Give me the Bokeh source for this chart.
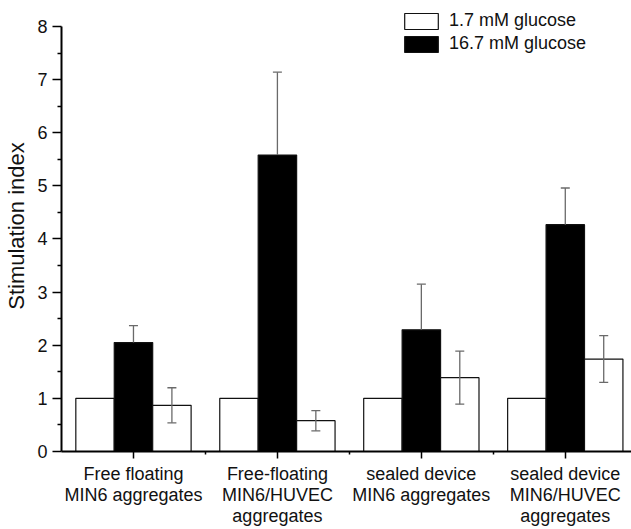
from bokeh.plotting import figure
from bokeh.models import ColumnDataSource, Whisker, FixedTicker, Range1d, Legend, LegendItem
from bokeh.embed import file_html
from bokeh.resources import INLINE

groups = ["Free floating\nMIN6 aggregates",
          "Free-floating\nMIN6/HUVEC\naggregates",
          "sealed device\nMIN6 aggregates",
          "sealed device\nMIN6/HUVEC\naggregates"]
low1 = [1.0, 1.0, 1.0, 1.0]
high = [2.05, 5.58, 2.29, 4.27]
high_err = [0.32, 1.56, 0.86, 0.69]
low2 = [0.87, 0.58, 1.39, 1.74]
low2_err = [0.33, 0.19, 0.50, 0.44]
y_ticks = [0, 1, 2, 3, 4, 5, 6, 7, 8]

FONT = "Liberation Sans"
W = 0.267
xc = [i + 1 for i in range(len(groups))]

p = figure(width=631, height=529, output_backend="svg", toolbar_location=None,
           x_range=Range1d(0.5, 4.46), y_range=Range1d(0, 8.489),
           min_border_left=61, min_border_right=0, min_border_top=0, min_border_bottom=78)
p.outline_line_color = None
p.xgrid.visible = False
p.ygrid.visible = False
p.background_fill_color = "white"

s1 = ColumnDataSource(dict(x=[c - W for c in xc], top=low1))
s2 = ColumnDataSource(dict(x=xc, top=high,
                           up=[v + e for v, e in zip(high, high_err)]))
s3 = ColumnDataSource(dict(x=[c + W for c in xc], top=low2,
                           up=[v + e for v, e in zip(low2, low2_err)],
                           lo=[v - e for v, e in zip(low2, low2_err)]))

r1 = p.vbar(x="x", top="top", bottom=0, width=W, source=s1,
            fill_color="white", line_color="#111111", line_width=1.2)
r2 = p.vbar(x="x", top="top", bottom=0, width=W, source=s2,
            fill_color="black", line_color="#111111", line_width=1.2)
r3 = p.vbar(x="x", top="top", bottom=0, width=W, source=s3,
            fill_color="white", line_color="#111111", line_width=1.2)

w2 = Whisker(base="x", upper="up", lower="top", source=s2,
             line_color="#6a6a6a", line_width=1.3, level="glyph")
w2.upper_head.size = 9
w2.upper_head.line_color = "#6a6a6a"
w2.upper_head.line_width = 1.3
w2.lower_head = None
p.add_layout(w2)

w3 = Whisker(base="x", upper="up", lower="lo", source=s3,
             line_color="#6a6a6a", line_width=1.3, level="glyph")
for h in (w3.upper_head, w3.lower_head):
    h.size = 9
    h.line_color = "#6a6a6a"
    h.line_width = 1.3
p.add_layout(w3)

# axes
p.xaxis.ticker = FixedTicker(ticks=xc, minor_ticks=[1.5, 2.5, 3.5])
p.xaxis.major_label_overrides = {c: g for c, g in zip(xc, groups)}
p.yaxis.ticker = FixedTicker(ticks=y_ticks, minor_ticks=[v + 0.5 for v in y_ticks[:-1]])
p.yaxis.bounds = (0, 8)
for ax in (p.xaxis[0], p.yaxis[0]):
    ax.axis_line_width = 2
    ax.axis_line_color = "black"
    ax.major_tick_line_width = 1.5
    ax.minor_tick_line_width = 1.5
    ax.major_tick_line_color = "black"
    ax.minor_tick_line_color = "black"
    ax.major_tick_out = 9
    ax.major_tick_in = 0
    ax.minor_tick_out = 4
    ax.minor_tick_in = 0
    ax.major_label_text_font = FONT
    ax.major_label_text_font_size = "18px"
    ax.major_label_text_color = "#111111"
p.xaxis.major_tick_out = 7
p.xaxis.minor_tick_out = 3
p.xaxis.major_label_standoff = 5
p.xaxis.major_label_text_line_height = 1.05
p.yaxis.major_label_standoff = 5
p.yaxis.axis_label = "Stimulation index"
p.yaxis.axis_label_text_font = FONT
p.yaxis.axis_label_text_font_size = "22px"
p.yaxis.axis_label_text_font_style = "normal"
p.yaxis.axis_label_text_color = "#111111"
p.yaxis.axis_label_standoff = 5

legend = Legend(items=[LegendItem(label="1.7 mM glucose", renderers=[r1]),
                       LegendItem(label="16.7 mM glucose", renderers=[r2])],
                location=(339, 397), padding=0, margin=0, spacing=2,
                glyph_width=42, glyph_height=20, label_standoff=7,
                border_line_color=None, background_fill_alpha=0,
                label_text_font=FONT, label_text_font_size="18px",
                label_text_color="#111111")
p.add_layout(legend, "center")

open("out.html", "w").write(file_html(p, INLINE))
